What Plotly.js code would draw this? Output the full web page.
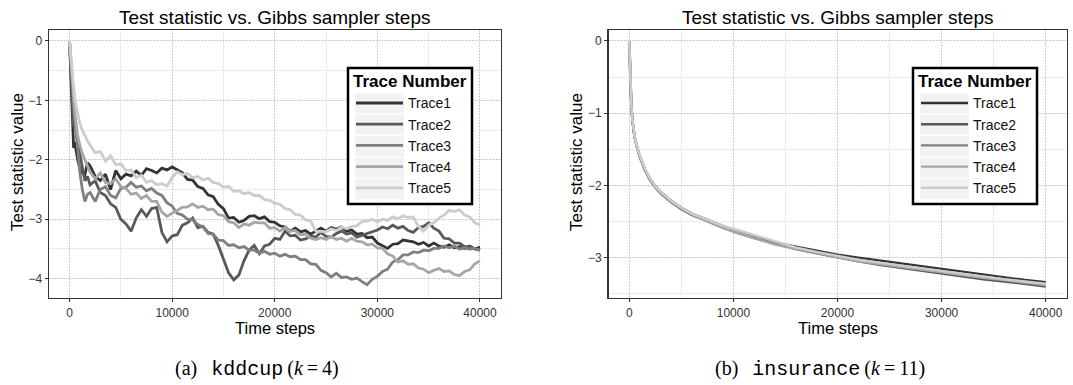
<!DOCTYPE html>
<html>
<head>
<meta charset="utf-8">
<script src="https://cdn.plot.ly/plotly-3.0.1.min.js"></script>
<style>html,body{margin:0;padding:0;background:#fff;}#chart{width:1073px;height:385px;}</style>
</head>
<body>
<div id="chart"></div>
<script>
// ---------- data: panel (a) kddcup ----------
const stepsA = [0,100,200,300,400,500,650,800,1000,1250,1500,1750,
 2000,2500,3000,3500,4000,4500,5000,5500,6000,6500,7000,7500,8000,8500,9000,9500,
 10000,10500,11000,11500,12000,12500,13000,13500,14000,14500,15000,15500,16000,16500,17000,17500,
 18000,18500,19000,19500,20000,20500,21000,21500,22000,22500,23000,23500,24000,24500,25000,25500,
 26000,26500,27000,27500,28000,28500,29000,29500,30000,30500,31000,31500,32000,32500,33000,33500,
 34000,34500,35000,35500,36000,36500,37000,37500,38000,38500,39000,39500,40000];

const a_trace1 = [0,-0.5,-1.1,-1.55,-1.8,-1.7,-1.88,-2.0,-2.15,-2.22,-2.25,-2.05,
 -2.1,-2.28,-2.35,-2.24,-2.5,-2.18,-2.32,-2.24,-2.27,-2.19,-2.26,-2.15,-2.18,-2.22,-2.14,-2.17,
 -2.12,-2.17,-2.22,-2.33,-2.34,-2.45,-2.48,-2.59,-2.62,-2.75,-2.82,-2.98,-2.97,-3.05,-3.02,-2.95,
 -2.94,-2.99,-2.96,-3.04,-3.05,-3.11,-3.13,-3.2,-3.15,-3.21,-3.19,-3.25,-3.2,-3.15,-3.2,-3.14,
 -3.17,-3.13,-3.2,-3.18,-3.25,-3.24,-3.31,-3.3,-3.4,-3.44,-3.49,-3.42,-3.41,-3.35,-3.36,-3.38,
 -3.42,-3.39,-3.45,-3.4,-3.45,-3.47,-3.43,-3.48,-3.46,-3.49,-3.45,-3.5,-3.47];

const a_trace2 = [0,-0.35,-0.8,-1.2,-1.45,-1.3,-1.55,-1.72,-1.9,-2.15,-2.35,-2.28,
 -2.42,-2.35,-2.55,-2.6,-2.74,-2.8,-3.0,-3.08,-3.2,-2.98,-2.84,-2.95,-2.82,-2.8,-3.22,-3.38,
 -3.28,-3.26,-3.1,-3.06,-2.98,-3.14,-3.12,-3.22,-3.25,-3.44,-3.66,-3.9,-4.02,-3.94,-3.7,-3.52,
 -3.44,-3.58,-3.45,-3.42,-3.32,-3.34,-3.2,-3.28,-3.27,-3.35,-3.33,-3.28,-3.3,-3.22,-3.29,-3.3,
 -3.24,-3.2,-3.25,-3.23,-3.3,-3.27,-3.24,-3.2,-3.18,-3.13,-3.16,-3.1,-3.15,-3.12,-3.19,-3.22,
 -3.14,-3.12,-3.06,-3.15,-3.2,-3.32,-3.33,-3.4,-3.4,-3.46,-3.46,-3.5,-3.52];

const a_trace3 = [0,-0.3,-0.6,-0.9,-1.1,-1.3,-1.55,-1.85,-2.2,-2.5,-2.7,-2.58,
 -2.55,-2.7,-2.5,-2.45,-2.6,-2.64,-2.48,-2.46,-2.38,-2.46,-2.44,-2.52,-2.48,-2.56,-2.6,-2.72,
 -2.78,-2.9,-2.93,-3.0,-3.01,-3.09,-3.13,-3.24,-3.25,-3.35,-3.36,-3.44,-3.43,-3.48,-3.46,-3.52,
 -3.52,-3.57,-3.54,-3.59,-3.57,-3.62,-3.59,-3.63,-3.62,-3.68,-3.68,-3.75,-3.76,-3.86,-3.9,-3.97,
 -3.91,-3.98,-3.97,-4.01,-3.99,-4.05,-4.1,-4.01,-3.96,-3.88,-3.84,-3.72,-3.68,-3.6,-3.6,-3.55,
 -3.56,-3.52,-3.53,-3.49,-3.49,-3.45,-3.48,-3.45,-3.5,-3.48,-3.5,-3.49,-3.52];

const a_trace4 = [0,-0.25,-0.55,-0.8,-1.0,-1.2,-1.4,-1.6,-1.75,-1.9,-2.0,-2.1,
 -2.2,-2.32,-2.22,-2.38,-2.4,-2.32,-2.45,-2.48,-2.58,-2.56,-2.65,-2.6,-2.7,-2.7,-2.88,-2.95,
 -2.9,-2.86,-2.8,-2.79,-2.74,-2.8,-2.78,-2.84,-2.83,-2.92,-2.94,-3.04,-3.06,-3.14,-3.08,-3.1,
 -3.05,-3.06,-3.06,-3.15,-3.14,-3.2,-3.14,-3.2,-3.19,-3.26,-3.25,-3.32,-3.34,-3.31,-3.34,-3.29,
 -3.34,-3.32,-3.37,-3.32,-3.37,-3.38,-3.43,-3.42,-3.48,-3.49,-3.58,-3.62,-3.72,-3.7,-3.76,-3.75,
 -3.82,-3.84,-3.9,-3.86,-3.83,-3.88,-3.87,-3.93,-3.95,-3.88,-3.85,-3.75,-3.7];

const a_trace5 = [0,-0.15,-0.35,-0.6,-0.8,-0.95,-1.1,-1.25,-1.38,-1.5,-1.6,-1.68,
 -1.75,-1.88,-1.86,-2.02,-1.93,-2.08,-2.07,-2.18,-2.17,-2.3,-2.26,-2.38,-2.35,-2.42,-2.4,-2.44,
 -2.3,-2.2,-2.25,-2.23,-2.3,-2.28,-2.34,-2.31,-2.38,-2.4,-2.46,-2.45,-2.53,-2.52,-2.57,-2.55,
 -2.6,-2.6,-2.67,-2.68,-2.73,-2.75,-2.82,-2.84,-2.92,-2.93,-3.01,-3.03,-3.2,-3.2,-3.21,-3.16,
 -3.19,-3.13,-3.16,-3.12,-3.11,-3.04,-3.03,-3.0,-3.05,-3.0,-3.02,-2.96,-2.99,-2.94,-2.97,-2.96,
 -3.12,-3.2,-3.1,-3.06,-2.98,-2.93,-2.85,-2.87,-2.84,-2.93,-2.96,-3.06,-3.1];

// ---------- data: panel (b) insurance ----------
const stepsB = [0,50,100,200,300,500,750,1000,1500,2000,2500,3000,4000,5000,6000,7000,8000,9000,
 10000,12000,14000,16000,18000,20000,22000,24000,26000,28000,30000,32000,34000,36000,38000,40000];
const b_trace1 = [0,-0.35,-0.6,-0.9,-1.1,-1.32,-1.48,-1.6,-1.78,-1.91,-2.01,-2.09,-2.21,-2.31,-2.39,-2.45,-2.51,-2.57,-2.62,-2.71,-2.79,-2.85,-2.91,-2.96,-3.0,-3.04,-3.08,-3.12,-3.16,-3.2,-3.24,-3.28,-3.31,-3.34];
const b_trace2 = [0,-0.36,-0.61,-0.91,-1.11,-1.33,-1.49,-1.61,-1.79,-1.93,-2.03,-2.11,-2.23,-2.33,-2.41,-2.47,-2.53,-2.59,-2.64,-2.73,-2.81,-2.88,-2.94,-3.0,-3.05,-3.1,-3.14,-3.19,-3.23,-3.27,-3.3,-3.33,-3.37,-3.4];
const b_trace3 = [0,-0.35,-0.6,-0.9,-1.1,-1.32,-1.48,-1.6,-1.78,-1.92,-2.02,-2.1,-2.22,-2.32,-2.4,-2.46,-2.52,-2.58,-2.63,-2.72,-2.8,-2.87,-2.93,-2.99,-3.04,-3.08,-3.12,-3.16,-3.2,-3.24,-3.27,-3.3,-3.34,-3.37];
const b_trace4 = [0,-0.34,-0.59,-0.89,-1.09,-1.31,-1.47,-1.59,-1.77,-1.92,-2.02,-2.1,-2.22,-2.32,-2.4,-2.47,-2.53,-2.59,-2.64,-2.73,-2.82,-2.88,-2.94,-3.0,-3.05,-3.09,-3.13,-3.17,-3.21,-3.25,-3.28,-3.31,-3.35,-3.38];
const b_trace5 = [0,-0.34,-0.59,-0.89,-1.09,-1.31,-1.47,-1.59,-1.77,-1.91,-2.01,-2.09,-2.21,-2.31,-2.39,-2.45,-2.51,-2.56,-2.6,-2.69,-2.78,-2.86,-2.92,-2.98,-3.03,-3.07,-3.11,-3.15,-3.19,-3.23,-3.26,-3.3,-3.33,-3.36];

const traceNames = ['Trace1','Trace2','Trace3','Trace4','Trace5'];
const traceColors = ['#333333','#595959','#7f7f7f','#a6a6a6','#cccccc'];

const xTickVals = [0,10000,20000,30000,40000];
const xTickText = ['0','10000','20000','30000','40000'];
const yTickValsA = [-4,-3,-2,-1,0];
const yTickTextA = ['\u22124','\u22123','\u22122','\u22121','0'];
const yTickValsB = [-3,-2,-1,0];
const yTickTextB = ['\u22123','\u22122','\u22121','0'];

const titleText = 'Test statistic vs. Gibbs sampler steps';
const xTitle = 'Time steps';
const yTitle = 'Test statistic value';
const legendTitle = 'Trace Number';

// ---------- figure ----------
const W = 1073, H = 385;
const seriesA = [a_trace1,a_trace2,a_trace3,a_trace4,a_trace5];
const seriesB = [b_trace1,b_trace2,b_trace3,b_trace4,b_trace5];
const traces = [];
seriesA.forEach((ys,i)=>traces.push({x:stepsA,y:ys,type:'scatter',mode:'lines',name:traceNames[i],
  line:{color:traceColors[i],width:2.8},xaxis:'x',yaxis:'y',legend:'legend',legendgroup:'a'+i}));
seriesB.forEach((ys,i)=>traces.push({x:stepsB,y:ys,type:'scatter',mode:'lines',name:traceNames[i],
  line:{color:traceColors[i],width:2.4},xaxis:'x2',yaxis:'y2',legend:'legend2',legendgroup:'b'+i}));

const axisBase = {showline:true,linecolor:'#333',linewidth:1.5,mirror:true,zeroline:false,
  showgrid:true,gridcolor:'#bdbdbd',griddash:'1px,2px',gridwidth:1,
  ticks:'outside',ticklen:3,tickcolor:'#333',tickwidth:1,
  tickfont:{size:12,color:'#333',family:'Liberation Sans, Arial, sans-serif'},fixedrange:true};
const xMinor = {tickmode:'linear',tick0:0,dtick:5000,showgrid:true,gridcolor:'#ebebeb',griddash:'solid',gridwidth:1,ticks:''};
const yMinor = {tickmode:'linear',tick0:0,dtick:0.5,showgrid:true,gridcolor:'#ebebeb',griddash:'solid',gridwidth:1,ticks:''};

const plotTopA = 30, plotBotA = 297.7;
const legendBase = {xanchor:'left',yanchor:'top',bgcolor:'rgba(0,0,0,0)',borderwidth:0,
  font:{size:14,color:'#111'},title:{text:'<b>'+legendTitle+'</b>',font:{size:17,color:'#000'}},
  tracegroupgap:3.9,traceorder:'normal',itemwidth:47};

// legend frame and key backgrounds (pixel geometry of the legend box)
const shapes = [];
function pxRect(x0,y0,x1,y1,fill,lineW,lineC){shapes.push({type:'rect',xref:'paper',yref:'paper',layer:'above',
  x0:x0/W,x1:x1/W,y0:1-y1/H,y1:1-y0/H,fillcolor:fill,line:{width:lineW,color:lineC||'rgba(0,0,0,0)'}});}
[348,913].forEach(lx=>{
  pxRect(lx,68,lx+124,204,'#ffffff',2.5,'#000');
  for(let k=0;k<5;k++){const cy=103.3+k*21.5;pxRect(lx+7,cy-10,lx+56,cy+10,'#f2f2f2',0);}
});

const ann = [];
function addText(x,y,text,size,opts){ann.push(Object.assign({x:x/W,y:1-y/H,xref:'paper',yref:'paper',text:text,
  showarrow:false,xanchor:'center',yanchor:'middle',font:{size:size,color:'#000',family:'Liberation Sans, Arial, sans-serif'}},opts||{}));}
addText(274.75,17,titleText,19);
addText(837.5,17,titleText,19);
addText(274.75,328,xTitle,16.5);
addText(837.5,328,xTitle,16.5);
addText(18,162,yTitle,17,{textangle:-90});
addText(577,162,yTitle,17,{textangle:-90});
const serif = 'Liberation Serif, Times New Roman, serif';
addText(257,369,'(a)\u2002\u2009<span style="font-family:\'Liberation Mono\',monospace">kddcup</span>\u2009(<i>k</i>\u2009=\u20094)',20,
  {font:{size:20,color:'#000',family:serif}});
addText(820,369,'(b)\u2002\u2009<span style="font-family:\'Liberation Mono\',monospace">insurance</span>\u2009(<i>k</i>\u2009=\u200911)',20,
  {font:{size:20,color:'#000',family:serif}});

const layout = {
  width:W,height:H,margin:{l:0,r:0,t:0,b:0},paper_bgcolor:'#fff',plot_bgcolor:'#fff',
  font:{family:'Liberation Sans, Arial, sans-serif',color:'#000'},showlegend:true,
  xaxis:Object.assign({},axisBase,{domain:[49/W,500.5/W],range:[-2000,42000],anchor:'y',
    tickmode:'array',tickvals:xTickVals,ticktext:xTickText,minor:xMinor}),
  yaxis:Object.assign({},axisBase,{domain:[1-plotBotA/H,1-plotTopA/H],range:[-4.32,0.185],anchor:'x',
    tickmode:'array',tickvals:yTickValsA,ticktext:yTickTextA,minor:yMinor}),
  xaxis2:Object.assign({},axisBase,{domain:[608.5/W,1066.5/W],range:[-2000,42000],anchor:'y2',
    tickmode:'array',tickvals:xTickVals,ticktext:xTickText,minor:xMinor}),
  yaxis2:Object.assign({},axisBase,{domain:[1-plotBotA/H,1-plotTopA/H],range:[-3.555,0.152],anchor:'x2',
    tickmode:'array',tickvals:yTickValsB,ticktext:yTickTextB,minor:yMinor}),
  legend:Object.assign({},legendBase,{x:351/W,y:1-65.3/H}),
  legend2:Object.assign({},legendBase,{x:916/W,y:1-65.3/H}),
  shapes:shapes,
  annotations:ann
};
Plotly.newPlot('chart',traces,layout,{displayModeBar:false,staticPlot:true});
</script>
</body>
</html>
